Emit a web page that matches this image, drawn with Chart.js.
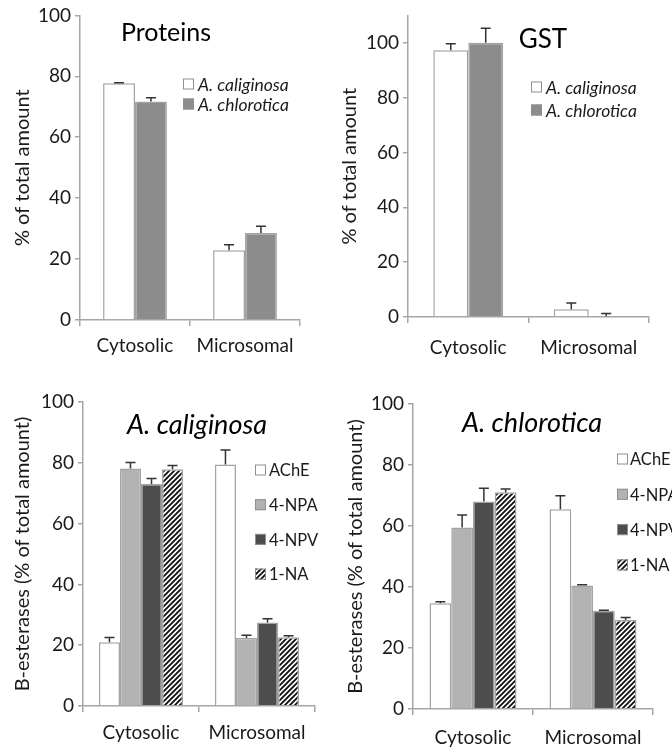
<!DOCTYPE html>
<html>
<head>
<meta charset="utf-8">
<script src="https://cdn.jsdelivr.net/npm/chart.js@4.4.1/dist/chart.umd.min.js"></script>
<style>
  html, body { margin: 0; padding: 0; background: #fff; }
  #wrap { position: relative; width: 672px; height: 753px; overflow: hidden; }
  canvas { position: absolute; }
</style>
</head>
<body>
<div id="wrap">
  <canvas id="proteins" width="336" height="360" style="left:0;top:0"></canvas>
  <canvas id="gst" width="336" height="360" style="left:336px;top:0"></canvas>
  <canvas id="calig" width="336" height="383" style="left:0;top:370px"></canvas>
  <canvas id="chlor" width="336" height="383" style="left:336px;top:370px"></canvas>
</div>
<script>
// values (means and upper error)
const fractions = ['Cytosolic', 'Microsomal'];
const species = ['A. caliginosa', 'A. chlorotica'];

const proteinCal = [77.7, 22.9];
const proteinCalErr = [0.2, 1.8];
const proteinChl = [71.7, 28.6];
const proteinChlErr = [1.3, 2.2];

const gstCal = [97.3, 2.8];
const gstCalErr = [2.4, 2.3];
const gstChl = [100.0, 0.3];
const gstChlErr = [5.3, 1.0];

const substrates = ['AChE', '4-NPA', '4-NPV', '1-NA'];
// A. caliginosa, one array per substrate: [cytosolic, microsomal]
const calAChE = [21.0, 79.4], calAChEErr = [1.5, 4.8];
const calNPA = [78.1, 22.4], calNPAErr = [2.0, 0.9];
const calNPV = [73.0, 27.5], calNPVErr = [1.8, 1.2];
const calNA = [77.9, 22.6], calNAErr = [1.2, 0.5];
// A. chlorotica
const chlAChE = [34.7, 65.5], chlAChEErr = [0.5, 4.4];
const chlNPA = [59.5, 40.5], chlNPAErr = [4.1, 0.2];
const chlNPV = [68.0, 32.2], chlNPVErr = [4.4, 0.2];
const chlNA = [71.1, 29.2], chlNAErr = [1.0, 0.8];

const FONT = 'Lato';
const axisColor = '#a6a6a6';
const textColor = '#1a1a1a';

function hatch() {
  const c = document.createElement('canvas');
  c.width = c.height = 5;
  const g = c.getContext('2d');
  g.fillStyle = '#fff';
  g.fillRect(0, 0, 5, 5);
  g.strokeStyle = '#111';
  g.lineWidth = 1.9;
  g.beginPath();
  g.moveTo(0, 5); g.lineTo(5, 0);
  g.moveTo(-1, 1); g.lineTo(1, -1);
  g.moveTo(4, 6); g.lineTo(6, 4);
  g.stroke();
  return g.createPattern(c, 'repeat');
}
const stripes = hatch();

// upper error bars with a cap
const errorBars = {
  id: 'errorBars',
  afterDatasetsDraw(chart) {
    const ctx = chart.ctx, y = chart.scales.y;
    ctx.save();
    ctx.strokeStyle = '#333';
    ctx.lineWidth = 1.5;
    chart.data.datasets.forEach((ds, i) => {
      chart.getDatasetMeta(i).data.forEach((bar, j) => {
        const top = y.getPixelForValue(ds.data[j] + ds.errors[j]);
        ctx.beginPath();
        ctx.moveTo(bar.x, bar.y);
        ctx.lineTo(bar.x, top);
        ctx.moveTo(bar.x - 5, top);
        ctx.lineTo(bar.x + 5, top);
        ctx.stroke();
      });
    });
    ctx.restore();
  }
};

// panel title + legend drawn inside the plot
const deco = {
  id: 'deco',
  afterDraw(chart, args, o) {
    const ctx = chart.ctx;
    ctx.save();
    ctx.fillStyle = '#000';
    ctx.textAlign = 'center';
    ctx.textBaseline = 'middle';
    ctx.font = o.titleFont;
    ctx.fillText(o.title, o.titleX, o.titleY);
    ctx.font = o.legendFont;
    ctx.textAlign = 'left';
    chart.data.datasets.forEach((ds, i) => {
      const yy = o.legendY + i * o.legendGap;
      ctx.fillStyle = ds.backgroundColor;
      ctx.fillRect(o.legendX, yy - 5.5, 11, 11);
      ctx.strokeStyle = '#8f8f8f';
      ctx.lineWidth = 1;
      ctx.strokeRect(o.legendX + 0.5, yy - 5, 10, 10);
      ctx.fillStyle = textColor;
      ctx.fillText(ds.label, o.legendTextX, yy + 1);
    });
    ctx.restore();
  }
};

function bars(label, data, errors, fill) {
  return { label, data, errors, backgroundColor: fill, borderColor: '#a3a3a3', borderWidth: 1.5 };
}

function panel(id, p) {
  new Chart(document.getElementById(id), {
    type: 'bar',
    data: { labels: fractions, datasets: p.datasets },
    plugins: [errorBars, deco],
    options: {
      responsive: false,
      animation: false,
      layout: { padding: { top: p.top, right: p.right, left: 0, bottom: 0 } },
      datasets: { bar: { barPercentage: 1, categoryPercentage: p.group } },
      plugins: { legend: { display: false }, tooltip: { enabled: false }, deco: p.deco },
      scales: {
        x: {
          grid: { offset: true, drawOnChartArea: false, tickLength: 6, color: axisColor, lineWidth: 1.5 },
          border: { color: axisColor, width: 1.5 },
          ticks: { font: { family: FONT, size: 19 }, color: textColor, padding: p.xpad },
          afterFit(s) { s.height = p.xh; }
        },
        y: {
          min: 0,
          max: p.max,
          ticks: { stepSize: 20, font: { family: FONT, size: 19 }, color: textColor, padding: 4 },
          afterBuildTicks(s) { s.ticks = s.ticks.filter(t => t.value <= 100); },
          grid: { drawOnChartArea: false, tickLength: 5, color: axisColor, lineWidth: 1.5 },
          border: { color: axisColor, width: 1.5 },
          title: { display: true, text: p.ytitle, font: { family: FONT, size: 20 }, color: textColor, padding: { top: p.tpad, bottom: 0 } },
          afterFit(s) { s.width = p.yw; }
        }
      }
    }
  });
}

panel('proteins', {
  datasets: [
    bars(species[0], proteinCal, proteinCalErr, '#ffffff'),
    bars(species[1], proteinChl, proteinChlErr, '#8c8c8c')
  ],
  top: 14, right: 36, yw: 80, xh: 40, max: 100, group: 0.58, xpad: 8, tpad: 11,
  ytitle: '% of total amount',
  deco: { title: 'Proteins', titleFont: '25px Lato', titleX: 166, titleY: 33,
          legendFont: 'italic 17.5px Lato', legendX: 183, legendTextX: 198, legendY: 84, legendGap: 20 }
});

panel('gst', {
  datasets: [
    bars(species[0], gstCal, gstCalErr, '#ffffff'),
    bars(species[1], gstChl, gstChlErr, '#8c8c8c')
  ],
  top: 10, right: 23, yw: 72, xh: 43, max: 110, group: 0.58, xpad: 13, tpad: 2,
  ytitle: '% of total amount',
  deco: { title: 'GST', titleFont: '26px Lato', titleX: 207, titleY: 40,
          legendFont: 'italic 17.5px Lato', legendX: 195, legendTextX: 210, legendY: 87, legendGap: 23 }
});

panel('calig', {
  datasets: [
    bars(substrates[0], calAChE, calAChEErr, '#ffffff'),
    bars(substrates[1], calNPA, calNPAErr, '#b2b2b2'),
    bars(substrates[2], calNPV, calNPVErr, '#4d4d4d'),
    bars(substrates[3], calNA, calNAErr, stripes)
  ],
  top: 32, right: 21, yw: 83, xh: 47, max: 100, group: 0.725, xpad: 9, tpad: 11,
  ytitle: 'B-esterases (% of total amount)',
  deco: { title: 'A. caliginosa', titleFont: 'italic 27px Lato', titleX: 197, titleY: 55,
          legendFont: '16.5px Lato', legendX: 255, legendTextX: 269, legendY: 100, legendGap: 34.7 }
});

panel('chlor', {
  datasets: [
    bars(substrates[0], chlAChE, chlAChEErr, '#ffffff'),
    bars(substrates[1], chlNPA, chlNPAErr, '#b2b2b2'),
    bars(substrates[2], chlNPV, chlNPVErr, '#4d4d4d'),
    bars(substrates[3], chlNA, chlNAErr, stripes)
  ],
  top: 34, right: 19, yw: 77, xh: 44, max: 100, group: 0.725, xpad: 11, tpad: 8,
  ytitle: 'B-esterases (% of total amount)',
  deco: { title: 'A. chlorotica', titleFont: 'italic 27px Lato', titleX: 196, titleY: 53,
          legendFont: '16.5px Lato', legendX: 281, legendTextX: 294, legendY: 89, legendGap: 35.3 }
});
</script>
</body>
</html>
